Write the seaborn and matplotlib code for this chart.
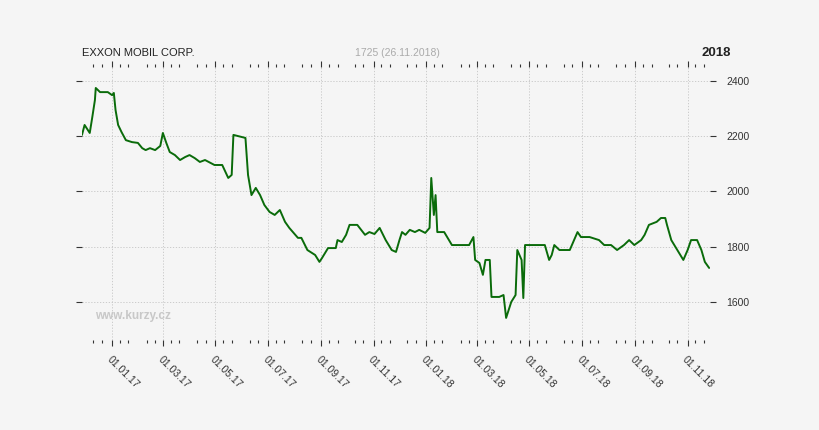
import matplotlib
matplotlib.use("Agg")
import matplotlib.pyplot as plt
import matplotlib.dates as mdates
import seaborn as sns
import pandas as pd
import numpy as np

start = "2016-11-27"
days = [0,3,9,12,15,16,21,30,35,37,39,42,46,51,58,65,70,74,79,85,91,94,98,102,108,114,120,125,131,137,143,154,163,170,174,176,190,193,197,202,207,212,218,224,230,236,241,251,255,262,271,276,279,286,295,297,302,307,311,320,329,334,340,346,353,360,365,369,372,376,381,387,392,399,404,406,409,411,413,421,430,450,455,457,462,466,469,474,476,485,490,493,499,504,506,511,513,515,526,538,543,546,549,555,567,576,580,590,601,607,615,622,630,636,642,650,654,659,668,673,678,680,685,692,699,704,708,715,720,724,729]
values = [2205,2241,2212,2270,2331,2375,2360,2360,2349,2357,2295,2241,2215,2186,2179,2176,2157,2150,2157,2150,2165,2212,2176,2143,2132,2114,2125,2132,2121,2107,2114,2096,2096,2049,2060,2205,2194,2060,1987,2013,1987,1951,1926,1915,1933,1890,1868,1832,1832,1788,1770,1745,1759,1795,1795,1824,1817,1843,1879,1879,1843,1853,1846,1868,1824,1788,1781,1824,1853,1843,1861,1853,1861,1850,1868,2049,1915,1987,1853,1853,1806,1806,1835,1752,1741,1698,1752,1752,1618,1618,1625,1542,1600,1625,1788,1752,1614,1806,1806,1806,1752,1770,1806,1788,1788,1853,1835,1835,1824,1806,1806,1788,1806,1824,1806,1824,1843,1879,1890,1904,1904,1879,1824,1788,1752,1788,1824,1824,1788,1745,1723]
tick_labels = ["01.01.17","01.03.17","01.05.17","01.07.17","01.09.17","01.11.17",
               "01.01.18","01.03.18","01.05.18","01.07.18","01.09.18","01.11.18"]
yticks = [1600, 1800, 2000, 2200, 2400]

n = min(len(days), len(values))
df = pd.DataFrame({"date": pd.Timestamp(start) + pd.to_timedelta(days[:n], unit="D"),
                   "price": values[:n]})

sns.set_style("white")
plt.rcParams['font.family'] = ['Liberation Sans', 'DejaVu Sans']
bg = "#f5f5f5"
fig = plt.figure(figsize=(8.2, 4.3), dpi=100, facecolor=bg)
ax = fig.add_axes([82/820, 1-340/430, (710-82)/820, (340-67)/430], facecolor=bg)
sns.lineplot(data=df, x="date", y="price", ax=ax, color="#0a6b0a", lw=1.4)

ax.set_xlim(pd.Timestamp("2016-11-27"), pd.Timestamp("2018-11-27"))
ax.set_ylim(1462, 2451)
for s in ax.spines.values():
    s.set_visible(False)

tick_dates = pd.to_datetime(tick_labels, format="%d.%m.%y")
ax.set_xticks(tick_dates)
ax.set_xticklabels(tick_labels, rotation=-45, ha="left", va="top",
                   rotation_mode="anchor", fontsize=7.5, color="#333333")
ax.xaxis.set_minor_locator(mdates.DayLocator(bymonthday=[10, 20]))
ax.tick_params(axis="x", which="both", top=True, bottom=True, direction="out",
               color="#333333", width=0.8)
ax.tick_params(axis="x", which="major", length=4, pad=6)
ax.tick_params(axis="x", which="minor", length=2)
ax.set_yticks(yticks)
ax.yaxis.tick_right()
ax.tick_params(axis="y", left=True, right=True, length=4, color="#333333",
               labelsize=7.5, labelcolor="#333333", pad=8)
ax.grid(True, which="major", color="#c4c4c4", ls=(0, (1.5, 2)), lw=0.6)
ax.set_xlabel("")
ax.set_ylabel("")

fig.text(82/820, 1-53/430, "EXXON MOBIL CORP.", fontsize=8, color="#222222", va="center")
fig.text(397/820, 1-53/430, "1725 (26.11.2018)", fontsize=7.5, color="#aaaaaa",
         va="center", ha="center")
fig.text(731/820, 1-53/430, "2018", fontsize=9.5, fontweight="bold", color="#222222",
         va="center", ha="right")
fig.text(95/820, 1-316/430, "www.kurzy.cz", fontsize=8.5, fontweight="bold",
         color="#c8c8c8", va="center")

fig.savefig("out.png", dpi=100, facecolor=bg)
